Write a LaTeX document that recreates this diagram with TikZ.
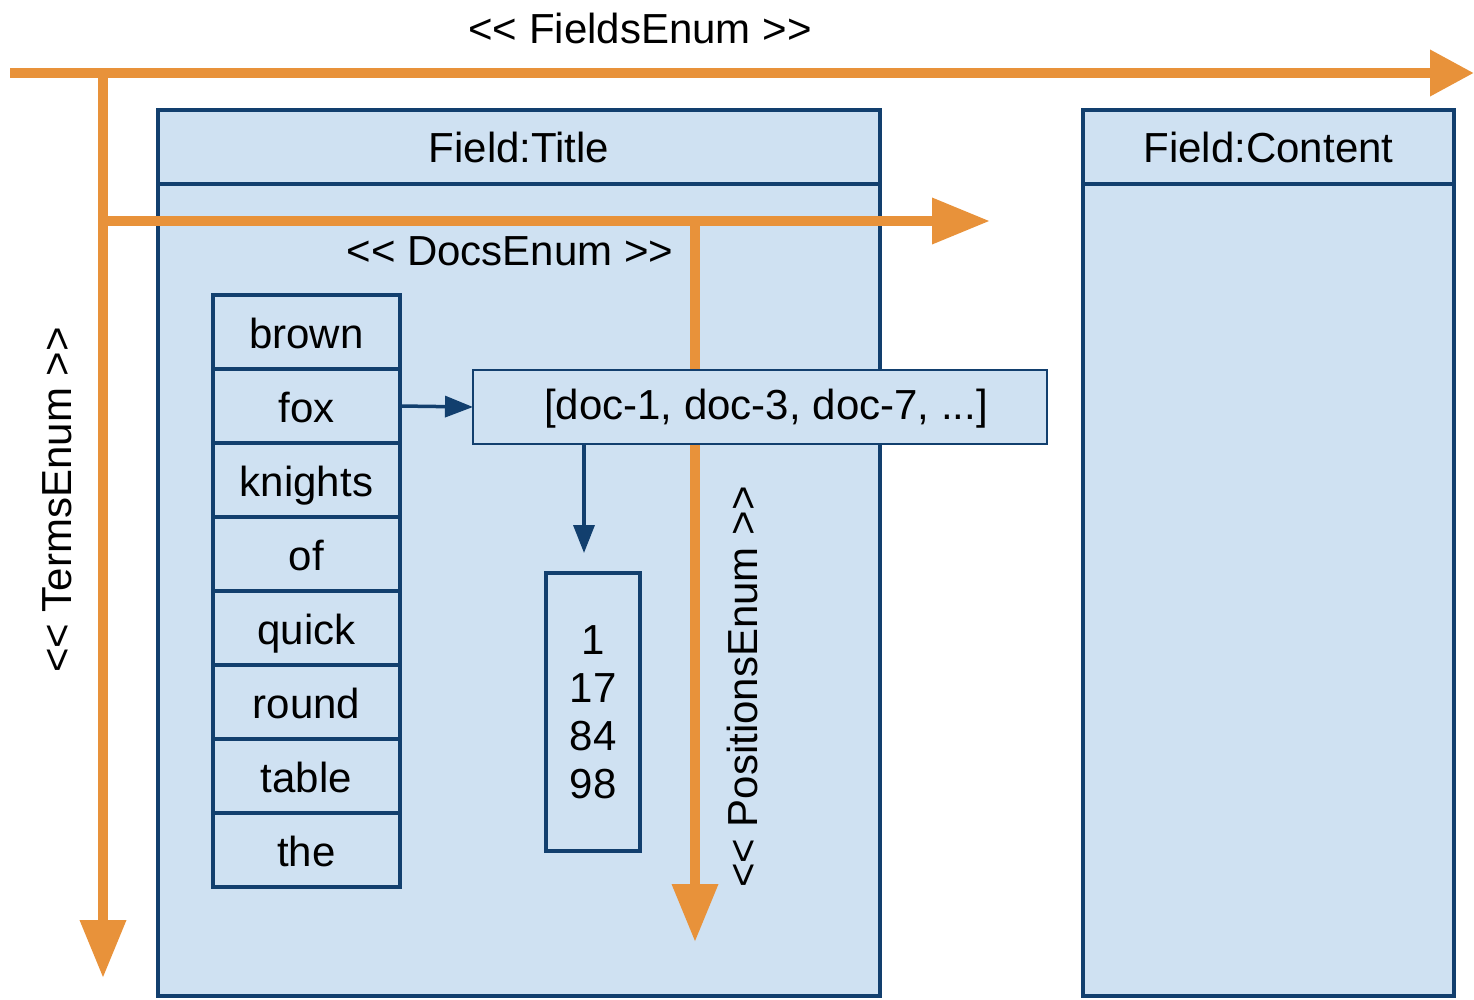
\documentclass[tikz,border=0pt]{standalone}
\usepackage{fontspec}
\setmainfont{Liberation Sans}[Ligatures=TeXOff]
\usetikzlibrary{arrows.meta}
\definecolor{orng}{HTML}{E8923A}
\definecolor{dblue}{HTML}{123F6E}
\definecolor{lblue}{HTML}{CFE1F2}
\tikzset{
  x=1pt, y=-1pt,
  every node/.style={font=\fontsize{42}{48}\selectfont, inner sep=0pt, outer sep=0pt},
  fieldbox/.style={draw=dblue, fill=lblue, line width=4pt, anchor=north west},
  termbox/.style={draw=dblue, fill=lblue, line width=4pt, minimum width=187pt, minimum height=74pt, anchor=north west, text height=36pt, text depth=4pt},
  docbox/.style={draw=dblue, fill=lblue, line width=2.5pt, anchor=north west},
  orangearrow/.style={draw=orng, line width=10pt, -{Triangle[length=58pt,width=44pt]}},
  bluearrow/.style={draw=dblue, line width=3.5pt, -{Triangle[length=28pt,width=21pt]}},
  lbl/.style={text=black}
}
\begin{document}
\begin{tikzpicture}
\useasboundingbox (0,0) rectangle (1474,999);
% field boxes
\node[fieldbox, minimum width=722pt, minimum height=886pt] (titlebody) at (158,110) {};
\node[fieldbox, minimum width=722pt, minimum height=74pt] (titlehead) at (158,110) {Field:Title};
\node[fieldbox, minimum width=371pt, minimum height=886pt] (contentbody) at (1083,110) {};
\node[fieldbox, minimum width=371pt, minimum height=74pt] (contenthead) at (1083,110) {Field:Content};
% orange enumerators
\coordinate (fstart) at (10,73);
\coordinate (fend) at (1474,73);
\coordinate (tsplit) at (103,73);
\coordinate (tend) at (103,978);
\coordinate (dsplit) at (103,221);
\coordinate (dend) at (990,221);
\coordinate (psplit) at (695,221);
\coordinate (pend) at (695,942);
\draw[orangearrow, -{Triangle[length=44pt,width=44pt]}] (fstart) -- (fend);
\draw[orangearrow] (tsplit) -- (tend);
\draw[orangearrow] (dsplit) -- (dend);
\draw[orangearrow] (psplit) -- (pend);
\node[lbl] (fieldsenum) at (640,28) {<< FieldsEnum >>};
\node[lbl] (docsenum) at (510,251) {<< DocsEnum >>};
\node[lbl, rotate=90] (termsenum) at (57,500) {<< TermsEnum >>};
\node[lbl, rotate=90] (posenum) at (742,687) {<< PositionsEnum >>};
% terms
\node[termbox] (t1) at (213,295) {brown};
\node[termbox] (t2) at (213,369) {fox};
\node[termbox] (t3) at (213,443) {knights};
\node[termbox] (t4) at (213,517) {of};
\node[termbox] (t5) at (213,591) {quick};
\node[termbox] (t6) at (213,665) {round};
\node[termbox] (t7) at (213,739) {table};
\node[termbox] (t8) at (213,813) {the};
% docs
\node[docbox, minimum width=574pt, minimum height=74pt, text height=30pt, text depth=6pt] (docs) at (473,370) {\hspace*{12pt}[doc-1, doc-3, doc-7, ...]};
\node[docbox, line width=3.5pt, minimum width=94pt, minimum height=278pt, align=center, font=\fontsize{42}{48}\selectfont] (pos) at (546,573) {1\\17\\84\\98};
\coordinate (posin) at (584,553);
\draw[bluearrow] (t2.east) -- (docs.west);
\draw[bluearrow] (docs.south -| posin) -- (posin);
\end{tikzpicture}
\end{document}
